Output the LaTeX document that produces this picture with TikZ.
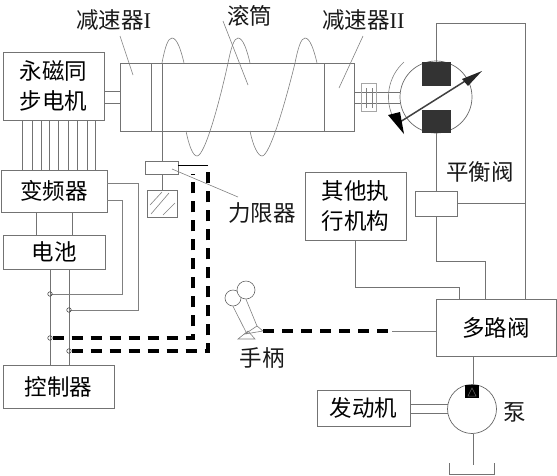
\documentclass[tikz,border=0pt]{standalone}
\usepackage{fontspec}
\setmainfont{Liberation Serif}
\newfontfamily\cjk{Noto Sans CJK SC}
\usetikzlibrary{calc}
\tikzset{
  x=1pt,y=-1pt,
  wire/.style={draw=black!55,line width=0.8pt},
  thin wire/.style={draw=black!50,line width=0.6pt},
  boxed/.style={draw=black!55,line width=0.9pt,fill=white,inner sep=0pt,align=center,font=\cjk\fontsize{22.5}{30}\selectfont},
  lbl/.style={inner sep=0pt,text=black!90,font=\cjk\fontsize{22.5}{30}\selectfont},
  heavy/.style={draw=black,line width=3.4pt,dash pattern=on 11pt off 8pt},
  joint/.style={circle,draw=black!70,line width=0.6pt,minimum size=4.5pt,inner sep=0pt},
  solidblock/.style={fill=black!80,draw=none,inner sep=0pt},
}
\newcommand{\bx}[6]{\node[boxed,minimum width=#4pt-#2pt,minimum height=#5pt-#3pt] (#1) at ({(#2+#4)/2},{(#3+#5)/2}) {#6};}
\begin{document}
\begin{tikzpicture}
\useasboundingbox (0,0) rectangle (557,475);
% boxes
\bx{motor}{3}{52}{104}{120}{永磁同\\步电机}
\bx{drum}{120}{63}{354}{131}{}
\bx{inv}{1}{170}{107}{212}{变频器}
\bx{bat}{3}{235}{105}{269}{电池}
\bx{ctrl}{3}{365}{114}{408}{控制器}
\bx{limit}{145}{161}{178}{174}{}
\bx{brake}{147}{190}{177}{217}{}
\bx{other}{305}{172}{406}{240}{其他执\\行机构}
\bx{bal}{415}{191}{457}{216}{}
\bx{multi}{436}{299}{556}{356}{多路阀}
\bx{engine}{317}{390}{410}{426}{发动机}
% drum partitions
\draw[wire] (151,63) -- (151,131);
\draw[wire] (324,63) -- (324,131);
\draw[wire] (162,63) -- (162,131);
% helix
\draw[thin wire] (162,63) .. controls (165,47) and (168,38) .. (172,38) .. controls (177,38) and (181,50) .. (184,63);
\draw[thin wire] (186,131) .. controls (189,146) and (193,156) .. (197,156) .. controls (205,156) and (220,100) .. (228,63) .. controls (231,48) and (234,38) .. (238,38) .. controls (243,38) and (247,50) .. (250,63);
\draw[thin wire] (250,131) .. controls (253,146) and (258,156) .. (262,156) .. controls (270,156) and (286,100) .. (295,63) .. controls (298,48) and (301,38) .. (305,38) .. controls (310,38) and (314,50) .. (317,63);
% motor shaft
\draw[wire] (motor.east |- 0,91) -- (drum.west |- 0,91);
\draw[wire] (motor.east |- 0,103) -- (drum.west |- 0,103);
% motor-inverter wires
\foreach \x in {22,32,41,49,58,68,77,87,95}{
  \coordinate (w) at (\x,120);
  \draw[wire] (w) -- (w |- inv.north);
}
% inverter-battery
\foreach \x in {36,72}{
  \coordinate (w) at (\x,212);
  \draw[wire] (w) -- (w |- bat.north);
}
% battery - controller
\coordinate (j1) at (50,294);
\coordinate (j2) at (69,310);
\coordinate (j3) at (50,338);
\coordinate (j4) at (69,351);
\draw[wire] (j1 |- bat.south) -- (j1 |- ctrl.north);
\draw[wire] (j2 |- bat.south) -- (j2 |- ctrl.north);
\coordinate (c1) at (138,183);
\coordinate (c2) at (122,200);
\draw[thin wire] (inv.east |- c1) -- (c1) |- (j2);
\draw[thin wire] (inv.east |- c2) -- (c2) |- (j1);
\node[joint] (n1) at (j1) {};
\node[joint] (n2) at (j2) {};
\node[joint] (n3) at (j3) {};
\node[joint] (n4) at (j4) {};
% limiter
\draw[wire] (162,131) -- (162,161);
\draw[wire] (162,174) -- (162,190);
\draw[thin wire] (151,214) -- (169,193) (150,205) -- (162,192) (163,215) -- (175,203);
% heavy dashes
\coordinate (d1) at (193,338);
\coordinate (d1t) at (193,174);
\coordinate (d2) at (208,351);
\coordinate (d2t) at (208,165);
\draw[heavy] (n3) -- (d1) -- (d1t);
\draw[heavy] (n4) -- (d2) -- (d2t);
\draw[draw=black,line width=0.7pt] (d2t) -- (limit.east |- d2t);
% labels
\node[lbl,anchor=west] (l1) at (76,20) {减速器\rmfamily I};
\node[lbl,anchor=west] (l2) at (227,16) {滚筒};
\node[lbl,anchor=west] (l3) at (322,20) {减速器\rmfamily II};
\node[lbl,anchor=west] (l4) at (228,213) {力限器};
\node[lbl] (l5) at (480,172) {平衡阀};
\node[lbl] (l6) at (262,358) {手柄};
\node[lbl] (l7) at (515,412) {泵};
\draw[thin wire] (120,36) -- (133,75);
\draw[thin wire] (223,21) -- (248,85);
\draw[thin wire] (363,36) -- (339,88);
\draw[thin wire] (172,169) -- (238,197);
% coupling
\draw[wire] (354,92) -- (400,92);
\draw[wire] (354,103) -- (400,103);
\node[draw=black!35,line width=0.9pt,minimum width=15pt,minimum height=28pt,inner sep=0pt] (coup) at (369,97.5) {};
\draw[thin wire] (366,88) -- (366,108) (372,88) -- (372,108);
% hydraulic motor
\coordinate (mc) at (436,97);
\node[circle,draw=black!60,line width=0.7pt,minimum size=72pt,inner sep=0pt] (hm) at (mc) {};
\draw[thin wire] (404,62) arc[start angle=-132,end angle=-208,radius=47];
\node[solidblock,minimum width=29pt,minimum height=24pt] (b1) at (436.5,74) {};
\node[solidblock,minimum width=29pt,minimum height=23pt] (b2) at (436.5,121.5) {};
\draw[draw=black!75,line width=1.5pt] (400,122) -- (470,78);
\fill[black!85] (482,71) -- (462,79) -- (468,86) -- cycle;
\fill[black] (388,115) -- (400,112) -- (404,134) -- cycle;
% hydraulic lines
\coordinate (r1) at (525,23);
\draw[wire] (b1.north) |- (r1) -- (r1 |- multi.north);
\draw[wire] (b2.south) -- (bal.north -| b2.south);
\coordinate (r2) at (485,261);
\draw[wire] (bal.south -| b2.south) |- (r2) -- (r2 |- multi.north);
\draw[wire] (bal.east) -- (bal.east -| r1);
\coordinate (r3) at (355,287);
\coordinate (r4) at (459,287);
\draw[wire] (other.south -| r3) -- (r3) -- (r4) -- (r4 |- multi.north);
% pump
\node[circle,draw=black!60,line width=0.7pt,minimum size=49pt,inner sep=0pt,fill=white] (pump) at (472,409) {};
\node[fill=black,inner sep=0pt,minimum width=14pt,minimum height=13pt] (pb) at (472,391.5) {};
\draw[draw=black!60,line width=0.5pt] (468,396) -- (472,388) -- (476,396) -- cycle;
\draw[wire] (473,356) -- (pb.north -| 473,0);
\draw[wire] (engine.east |- 0,404) -- (448,404);
\draw[wire] (engine.east |- 0,413) -- (448,413);
\coordinate (t1) at (449,463);
\coordinate (t2) at (449,474);
\coordinate (t3) at (494,474);
\coordinate (t4) at (494,463);
\draw[wire] (pump.south) ++(1,0) -- (473,465);
\draw[wire] (t1) -- (t2) -- (t3) -- (t4);
% handle
\node[circle,draw=black!60,line width=0.6pt,minimum size=16pt,inner sep=0pt,fill=white] (k1) at (233,298) {};
\node[circle,draw=black!60,line width=0.6pt,minimum size=18pt,inner sep=0pt,fill=white] (k2) at (246,290) {};
\draw[thin wire] (k1.south) -- (247,334);
\draw[thin wire] (k2.south) -- (257,326);
\draw[thin wire] (238,339) -- (255,339) -- (248,331) -- cycle;
\draw[thin wire] (245,334) -- (257,326) -- (263,331) -- cycle;
\coordinate (hd) at (263,331);
\coordinate (hd2) at (392,331);
\draw[heavy] (hd) -- (hd2);
\draw[thin wire] (hd2) -- (multi.west |- hd2);
\end{tikzpicture}
\end{document}
